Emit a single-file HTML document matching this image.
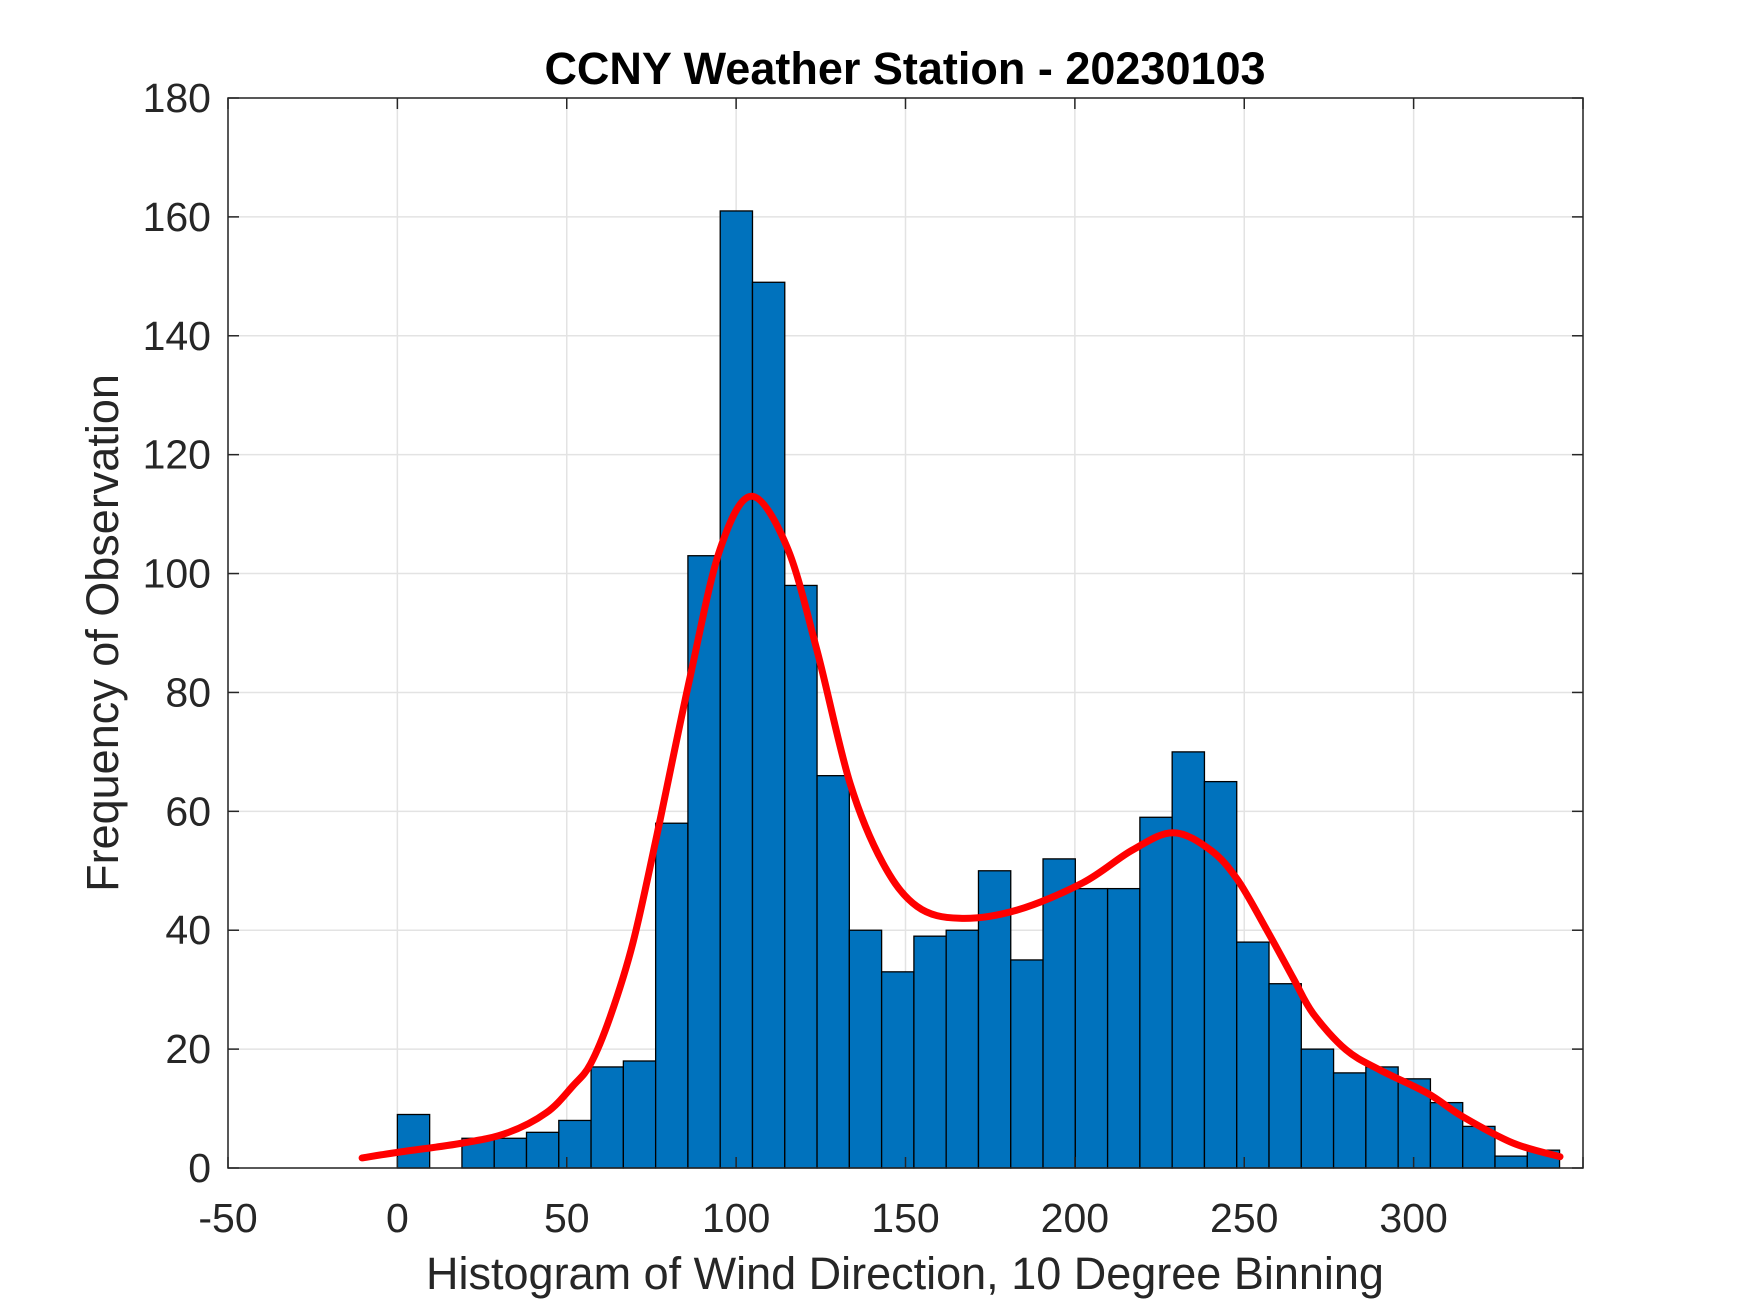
<!DOCTYPE html>
<html><head><meta charset="utf-8"><style>
html,body{margin:0;padding:0;background:#fff;}
svg{display:block;font-family:"Liberation Sans",Arial,sans-serif;}
</style></head><body>
<svg id="chart" width="1750" height="1313" viewBox="0 0 1750 1313" xmlns="http://www.w3.org/2000/svg">
<rect width="1750" height="1313" fill="#fff"/>
<g id="grid"></g><g id="bars"></g><g id="curve"></g><g id="axes"></g>
</svg>
<script>
const counts = [9,0,5,5,6,8,17,18,58,103,161,149,98,66,40,33,39,40,50,35,52,47,47,59,70,65,38,31,20,16,17,15,11,7,2,3];
const binStart = 0;
const binWidth = 9.53;
const curveX = [-10.4,0.8,19.4,32.4,44,51.8,57,62.8,69.6,76.6,86.4,95.2,104.5,115,123.9,133.6,143.3,153.4,166,183,202.4,217,229,240,248,256.7,264.4,270.3,280,290,304,314.6,329.3,343.2];
const curveY = [1.7,2.7,4.2,5.9,9.3,13.8,17.5,25.4,38,56,82.6,104,113,104.5,87,64.8,51.3,44,42,43.4,48,53.5,56.4,53.5,48.5,40,32,26,19.9,16.5,12.6,8.6,4.2,1.9];
const xTicks = [-50,0,50,100,150,200,250,300,350];
const xTickLabels = ["-50","0","50","100","150","200","250","300",""];
const yTicks = [0,20,40,60,80,100,120,140,160,180];
const yTickLabels = ["0","20","40","60","80","100","120","140","160","180"];
const xMin=-50,xMax=350,yMin=0,yMax=180;
const L=228,R=1583,T=98,B=1168;
const sx=v=>L+(v-xMin)/(xMax-xMin)*(R-L);
const sy=v=>B-(v-yMin)/(yMax-yMin)*(B-T);
const NS="http://www.w3.org/2000/svg";
function mk(tag,parent){const e=document.createElementNS(NS,tag);document.getElementById(parent).appendChild(e);return e;}
xTicks.forEach((t,i)=>{const l=mk('line','grid');


l.setAttribute('x1',sx(t));l.setAttribute('x2',sx(t));l.setAttribute('y1',T);l.setAttribute('y2',B);l.setAttribute('stroke','#e3e3e3');l.setAttribute('stroke-width','1.5');});
yTicks.forEach((t,i)=>{const l=mk('line','grid');


l.setAttribute('x1',L);l.setAttribute('x2',R);l.setAttribute('y1',sy(t));l.setAttribute('y2',sy(t));l.setAttribute('stroke','#e3e3e3');l.setAttribute('stroke-width','1.5');});
counts.forEach((c,i)=>{const x0=sx(binStart+i*binWidth),x1=sx(binStart+(i+1)*binWidth);const r=mk('rect','bars');


r.setAttribute('x',x0);r.setAttribute('width',x1-x0);r.setAttribute('y',sy(c));r.setAttribute('height',sy(0)-sy(c));r.setAttribute('fill','#0072BD');r.setAttribute('stroke','#000');r.setAttribute('stroke-width','1.3');});
const p=mk('path','curve');


const pts=curveX.map((x,i)=>[sx(x),sy(curveY[i])]);
let d='M'+pts[0][0].toFixed(1)+' '+pts[0][1].toFixed(1);
for(let i=0;i<pts.length-1;i++){const p0=pts[Math.max(0,i-1)],p1=pts[i],p2=pts[i+1],p3=pts[Math.min(pts.length-1,i+2)];
const c1=[p1[0]+(p2[0]-p0[0])/6,p1[1]+(p2[1]-p0[1])/6],c2=[p2[0]-(p3[0]-p1[0])/6,p2[1]-(p3[1]-p1[1])/6];
d+=' C'+c1.map(v=>v.toFixed(1)).join(' ')+' '+c2.map(v=>v.toFixed(1)).join(' ')+' '+p2.map(v=>v.toFixed(1)).join(' ');}
p.setAttribute('d',d);p.setAttribute('fill','none');p.setAttribute('stroke','#ff0000');p.setAttribute('stroke-width','7');p.setAttribute('stroke-linejoin','round');p.setAttribute('stroke-linecap','round');
const bx=mk('rect','axes');


bx.setAttribute('x',L);bx.setAttribute('y',T);bx.setAttribute('width',R-L);bx.setAttribute('height',B-T);bx.setAttribute('fill','none');bx.setAttribute('stroke','#262626');bx.setAttribute('stroke-width','1.5');
xTicks.forEach((t,i)=>{[[B,B-11],[T,T+11]].forEach(([a,b])=>{const l=mk('line','axes');


l.setAttribute('x1',sx(t));l.setAttribute('x2',sx(t));l.setAttribute('y1',a);l.setAttribute('y2',b);l.setAttribute('stroke','#262626');l.setAttribute('stroke-width','1.5');});
const tx=mk('text','axes');


tx.setAttribute('x',sx(t));tx.setAttribute('y',1232);tx.setAttribute('text-anchor','middle');tx.setAttribute('font-size','41');tx.setAttribute('fill','#262626');tx.textContent=xTickLabels[i];});
yTicks.forEach((t,i)=>{[[L,L+11],[R,R-11]].forEach(([a,b])=>{const l=mk('line','axes');


l.setAttribute('x1',a);l.setAttribute('x2',b);l.setAttribute('y1',sy(t));l.setAttribute('y2',sy(t));l.setAttribute('stroke','#262626');l.setAttribute('stroke-width','1.5');});
const tx=mk('text','axes');


tx.setAttribute('x',211);tx.setAttribute('y',sy(t)+14);tx.setAttribute('text-anchor','end');tx.setAttribute('font-size','41');tx.setAttribute('fill','#262626');tx.textContent=yTickLabels[i];});
</script>
<svg style="position:absolute;left:0;top:0" width="1750" height="1313" xmlns="http://www.w3.org/2000/svg" font-family="Liberation Sans, Arial, sans-serif">
<text x="905" y="84" text-anchor="middle" font-size="45" font-weight="bold" fill="#000">CCNY Weather Station - 20230103</text>
<text x="905" y="1289" text-anchor="middle" font-size="45" fill="#262626">Histogram of Wind Direction, 10 Degree Binning</text>
<text x="0" y="0" transform="translate(118,633) rotate(-90)" text-anchor="middle" font-size="45" fill="#262626">Frequency of Observation</text>
</svg>
</body></html>
